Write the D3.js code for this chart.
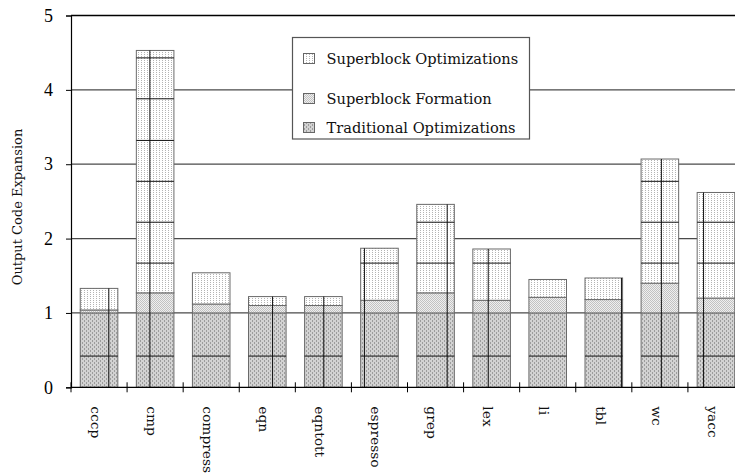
<!DOCTYPE html>
<html>
<head>
<meta charset="utf-8">
<script src="https://cdn.jsdelivr.net/npm/d3@7"></script>
<style>
  html, body { margin: 0; padding: 0; background: #fff; }
  svg { display: block; }
</style>
</head>
<body>
<svg id="chart" width="735" height="474"></svg>
<script>
// Benchmarks on the x axis
const categories = ["cccp", "cmp", "compress", "eqn", "eqntott", "espresso",
                    "grep", "lex", "li", "tbl", "wc", "yacc"];
// Stacked contributions to output code expansion (ratio)
const traditional = [1.00, 1.00, 1.00, 1.00, 1.00, 1.00, 1.00, 1.00, 1.00, 1.00, 1.00, 1.00];
const formation   = [0.04, 0.27, 0.12, 0.10, 0.10, 0.17, 0.27, 0.17, 0.21, 0.18, 0.40, 0.20];
const superOpt    = [0.29, 3.26, 0.42, 0.12, 0.12, 0.70, 1.19, 0.69, 0.24, 0.29, 1.67, 1.42];
const seriesKeys  = ["trad", "form", "opt"];
const seriesNames = ["Traditional Optimizations", "Superblock Formation", "Superblock Optimizations"];
const yTicks = [0, 1, 2, 3, 4, 5];
const yTitle = "Output Code Expansion";

const W = 735, H = 474;
const plot = { left: 71, right: 744, top: 15.5, bottom: 387.3 };

const svg = d3.select("#chart");
const defs = svg.append("defs");

// Fill textures for the three series
function texture(id, w, h, bg, cells, ink) {
  const p = defs.append("pattern")
    .attr("id", id).attr("patternUnits", "userSpaceOnUse")
    .attr("width", w).attr("height", h);
  p.append("rect").attr("width", w).attr("height", h).attr("fill", bg);
  cells.forEach(([cx, cy, cw, ch]) =>
    p.append("rect").attr("x", cx).attr("y", cy).attr("width", cw).attr("height", ch).attr("fill", ink));
}
texture("fill-trad", 4, 4, "#d2d2d2", [[0, 0, 1, 2], [2, 2, 1, 2]], "#9c9c9c");
texture("fill-form", 2, 2, "#efefef", [[0, 0, 1, 1], [1, 1, 1, 1]], "#c2c2c2");
texture("fill-opt", 3, 2, "#ffffff", [[0, 0, 1, 1]], "#b4b4b4");
const fills = { trad: "url(#fill-trad)", form: "url(#fill-form)", opt: "url(#fill-opt)" };

const x = d3.scaleBand()
  .domain(categories)
  .range([plot.left, plot.right])
  .paddingInner(0.33)
  .paddingOuter(0.165);
const y = d3.scaleLinear().domain([0, 5]).range([plot.bottom, plot.top]);

const table = categories.map((c, i) => ({
  name: c, trad: traditional[i], form: formation[i], opt: superOpt[i]
}));
const stacked = d3.stack().keys(seriesKeys)(table);

// Horizontal grid lines
svg.append("g")
  .selectAll("line")
  .data(yTicks.filter(t => t > 0 && t < 5))
  .join("line")
  .attr("x1", plot.left).attr("x2", W)
  .attr("y1", d => y(d)).attr("y2", d => y(d))
  .attr("stroke", "#4a4a4a").attr("stroke-width", 1.2);

// Top frame line
svg.append("line")
  .attr("x1", plot.left).attr("x2", W)
  .attr("y1", y(5)).attr("y2", y(5))
  .attr("stroke", "#000").attr("stroke-width", 1.6);

// Stacked bars
const layers = svg.append("g")
  .selectAll("g")
  .data(stacked)
  .join("g")
  .attr("fill", d => fills[d.key]);

layers.selectAll("rect")
  .data(d => d)
  .join("rect")
  .attr("x", d => x(d.data.name))
  .attr("width", x.bandwidth())
  .attr("y", d => y(d[1]))
  .attr("height", d => y(d[0]) - y(d[1]))
  .attr("stroke", "#6a6a6a")
  .attr("stroke-width", 1);

// Hairline seams printed across the bar fills
const seamLevels = [0.42, 1.67, 2.22, 2.77, 3.32, 3.88, 4.43];
const seamColumn = { cccp: 0.76, cmp: 0.36, eqn: 0.64, eqntott: 0.51, espresso: 0.10,
                     grep: 0.81, lex: 0.41, tbl: 0.97, wc: 0.54, yacc: 0.17 };
const seams = svg.append("g").attr("stroke", "#111").attr("stroke-width", 1);
table.forEach(d => {
  const total = d.trad + d.form + d.opt;
  const x0 = x(d.name), bw = x.bandwidth();
  seamLevels.filter(v => v < total - 0.03).forEach(v => {
    seams.append("line")
      .attr("x1", x0).attr("x2", x0 + bw)
      .attr("y1", y(v)).attr("y2", y(v));
  });
  if (seamColumn[d.name] !== undefined) {
    const sx = x0 + seamColumn[d.name] * bw;
    seams.append("line")
      .attr("x1", sx).attr("x2", sx)
      .attr("y1", y(total)).attr("y2", y(0));
  }
});

// Y axis
const yAxis = svg.append("g")
  .attr("transform", `translate(${plot.left},0)`)
  .call(d3.axisLeft(y).tickValues(yTicks).tickFormat(d3.format("d"))
        .tickSize(5).tickPadding(13));
yAxis.select(".domain").attr("stroke", "#000").attr("stroke-width", 1.2);
yAxis.selectAll(".tick line").attr("stroke", "#000");
yAxis.selectAll(".tick text")
  .attr("fill", "#000")
  .style("font-family", "'Liberation Serif', serif")
  .style("font-size", "18px");

// Y axis title
svg.append("text")
  .attr("transform", `translate(17,207) rotate(-90)`)
  .attr("text-anchor", "middle")
  .attr("dominant-baseline", "central")
  .style("font-family", "'DejaVu Serif', serif")
  .style("font-size", "13px")
  .attr("fill", "#111")
  .text(yTitle);

// X axis line and category boundary ticks
svg.append("line")
  .attr("x1", plot.left).attr("x2", W)
  .attr("y1", plot.bottom).attr("y2", plot.bottom)
  .attr("stroke", "#000").attr("stroke-width", 1.2);
const edge = x.step() * x.paddingOuter();
svg.append("g")
  .selectAll("line")
  .data(categories)
  .join("line")
  .attr("x1", d => x(d) - edge).attr("x2", d => x(d) - edge)
  .attr("y1", plot.bottom - 5).attr("y2", plot.bottom + 5)
  .attr("stroke", "#000");

// Category labels, rotated to read downward
svg.append("g")
  .selectAll("text")
  .data(categories)
  .join("text")
  .attr("transform", d => `translate(${x(d) + x.bandwidth() / 2 - 4.5},${plot.bottom + 19}) rotate(90)`)
  .attr("dy", "0.27em")
  .attr("text-anchor", "start")
  .style("font-family", "'DejaVu Serif', serif")
  .style("font-size", "13.8px")
  .attr("fill", "#111")
  .text(d => d);

// Legend
const legend = svg.append("g");
legend.append("rect")
  .attr("x", 292.5).attr("y", 37.5).attr("width", 237).attr("height", 101.5)
  .attr("fill", "#fff").attr("stroke", "#555").attr("stroke-width", 1.2);
const legendRows = [
  { key: "opt", cy: 59 },
  { key: "form", cy: 99 },
  { key: "trad", cy: 128 }
];
legendRows.forEach(r => {
  const name = seriesNames[seriesKeys.indexOf(r.key)];
  legend.append("rect")
    .attr("x", 303.5).attr("y", r.cy - 5.5).attr("width", 11).attr("height", 10)
    .attr("fill", fills[r.key]).attr("stroke", "#666");
  legend.append("text")
    .attr("x", 326.5).attr("y", r.cy)
    .attr("dy", "0.35em")
    .style("font-family", "'DejaVu Serif', serif")
    .style("font-size", "14.6px")
    .attr("fill", "#111")
    .text(name);
});
</script>
</body>
</html>
